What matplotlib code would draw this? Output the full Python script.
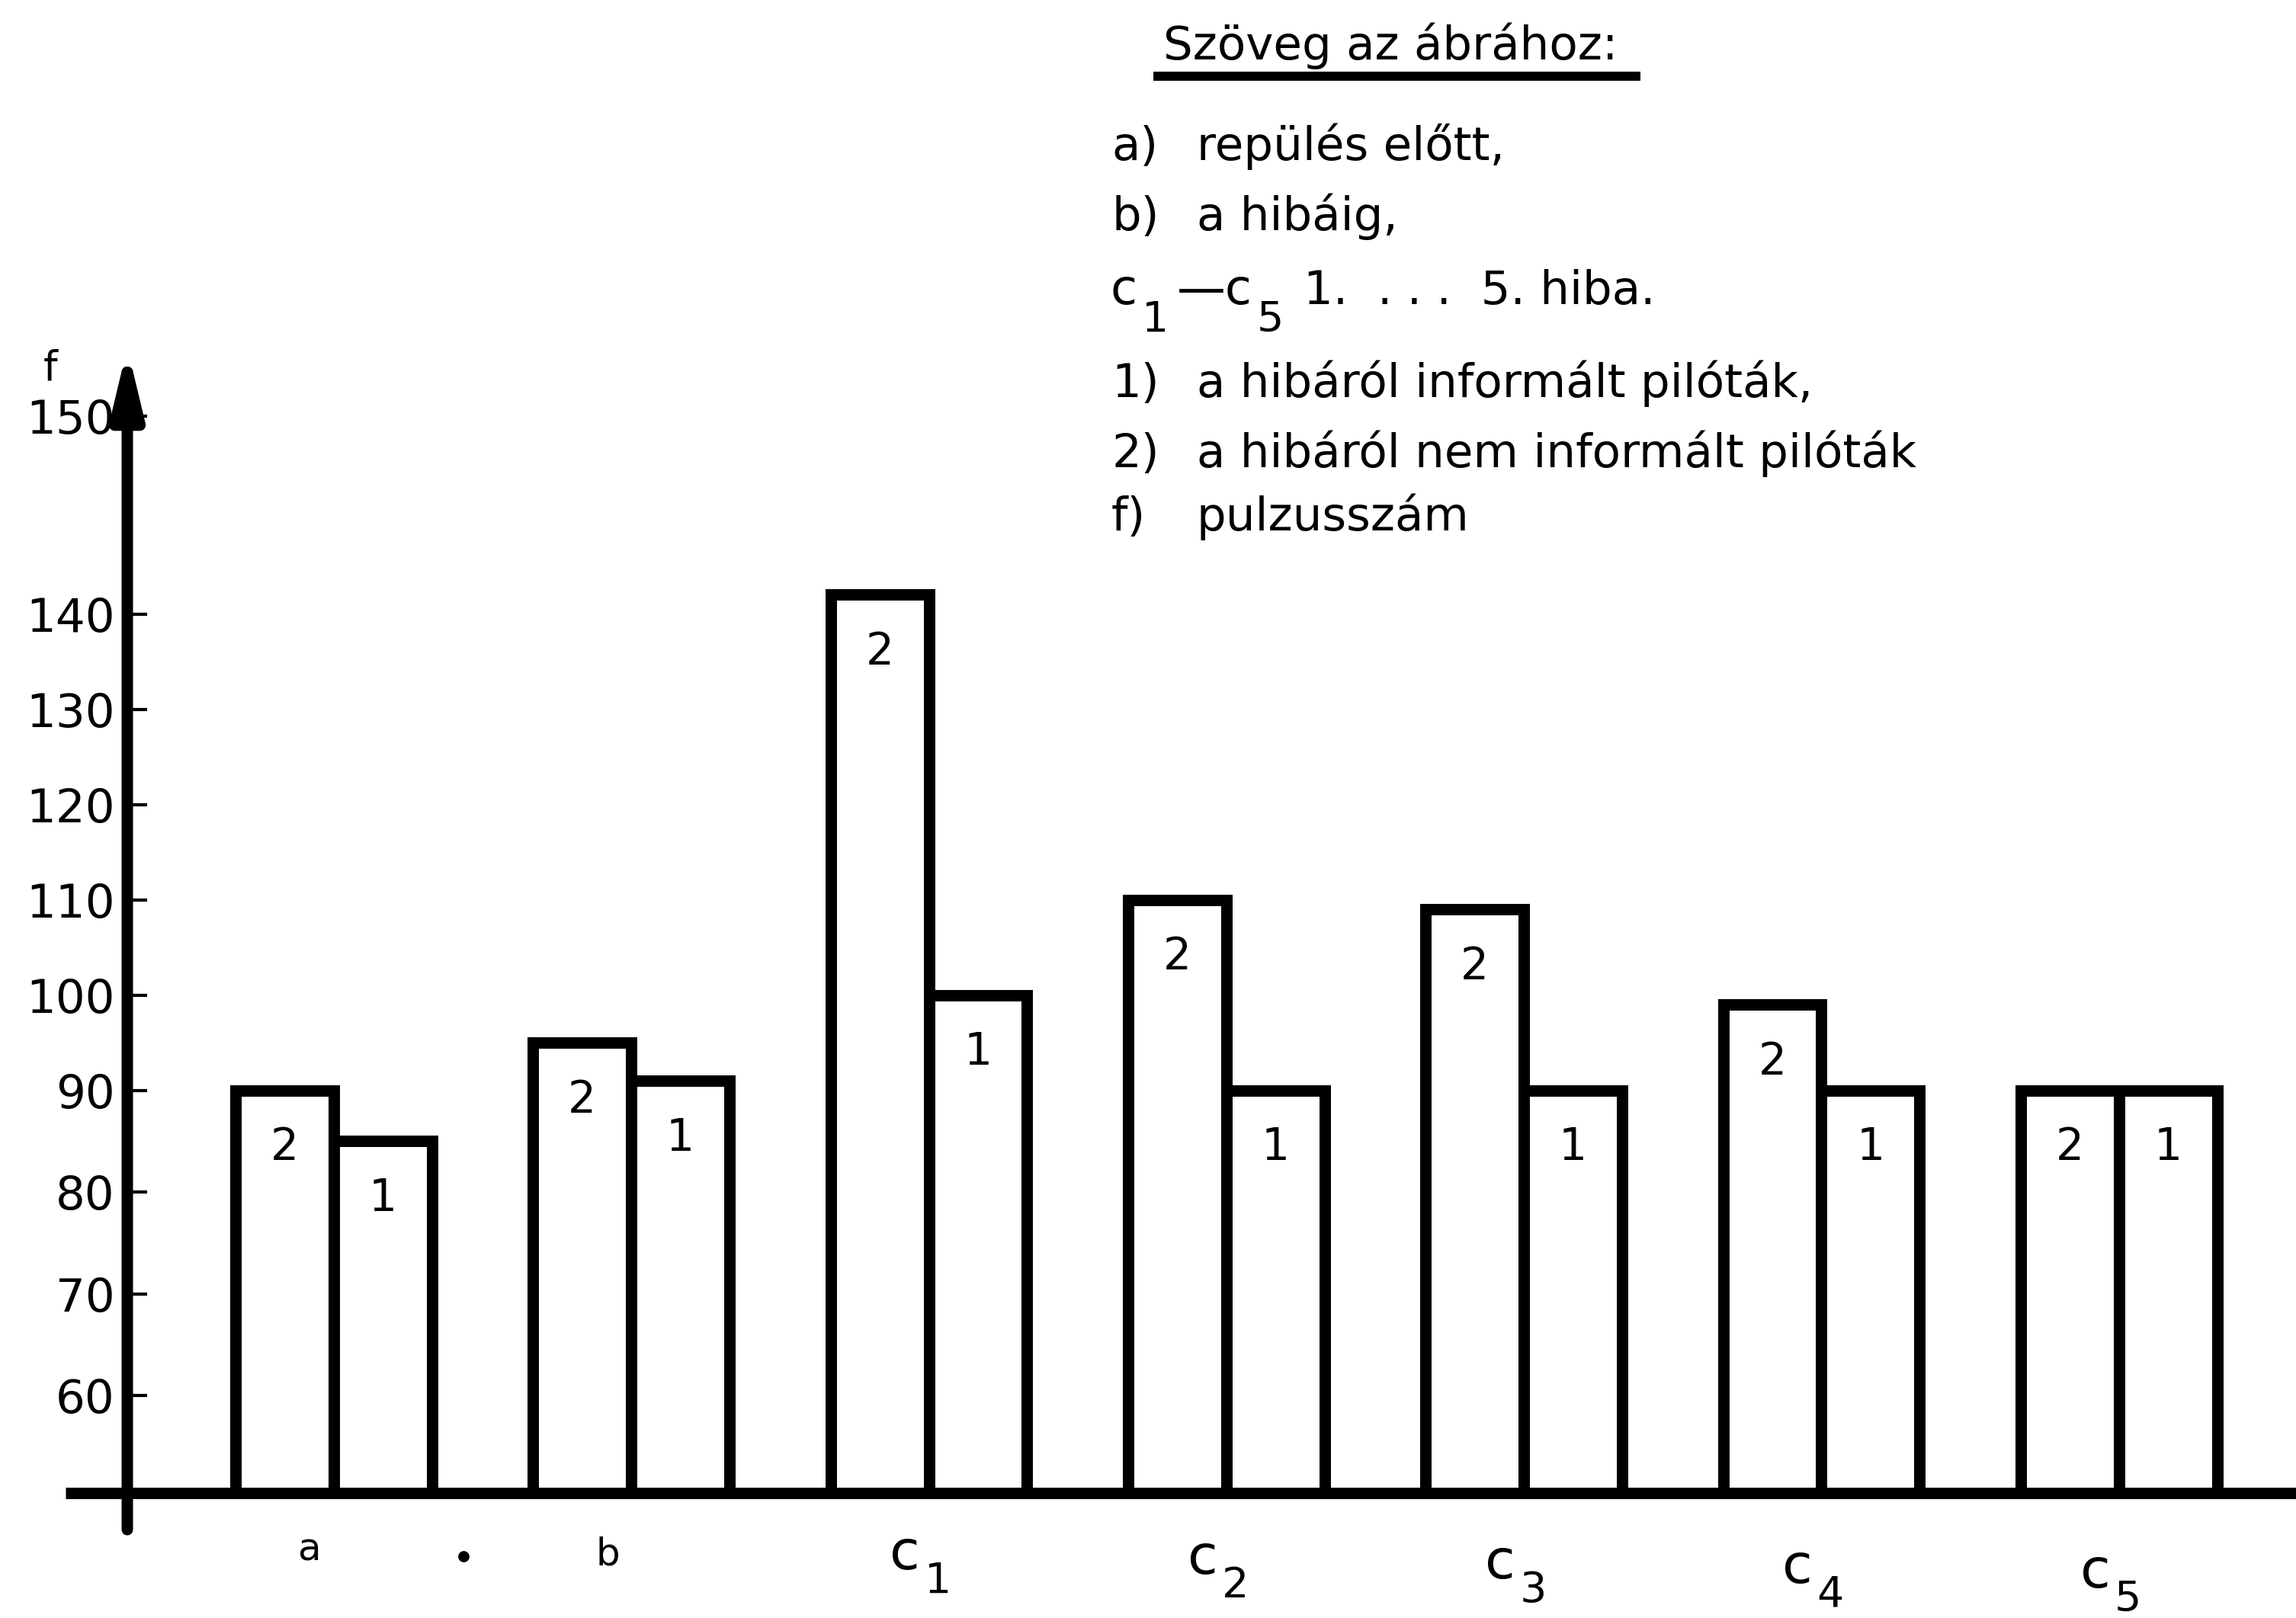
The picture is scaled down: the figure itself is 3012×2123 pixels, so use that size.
"""
Pulzusszam abra - repules elott, a hibaig es az 1-5. hiba soran
"""

import matplotlib.pyplot as plt
import numpy as np

# Csoportok az x tengelyen (betu + also index)
csoportok = ['a', 'b', 'c', 'c', 'c', 'c', 'c']
csoport_index = ['', '', '1', '2', '3', '4', '5']

# 2) a hibarol nem informalt pilotak, 1) a hibarol informalt pilotak
nem_informalt = [90, 95, 141, 110, 109, 99, 90]
informalt = [85, 91, 100, 90, 90, 90, 90]

y_ertekek = [60, 70, 80, 90, 100, 110, 120, 130, 140, 150]

cim = 'Szöveg az ábrához:'
jel_betuk = ['a)', 'b)', None, '1)', '2)', 'f)']
jel_szovegek = ['repülés előtt,', 'a hibáig,', '1.  . . .  5. hiba.',
                'a hibáról informált pilóták,',
                'a hibáról nem informált pilóták', 'pulzusszám']

# A kezzel rajzolt tengely beosztasa nem egyenletes (a 150 jocskan feljebb van)
SKALA_ERTEK = [0, 50, 60, 90, 140, 150, 300]
SKALA_HELY = [-50, 0, 10, 41.3, 90.1, 110.4, 260.4]


def elore(y):
    return np.interp(y, SKALA_ERTEK, SKALA_HELY)


def vissza(y):
    return np.interp(y, SKALA_HELY, SKALA_ERTEK)


fig = plt.figure(figsize=(15.06, 10.615), dpi=200)
ax = fig.add_axes([0.05545, 0.07725, 1 - 0.05545, 0.6967])
ax.set_yscale('function', functions=(elore, vissza))
ax.set_xlim(-0.694, 6.595)
ax.set_ylim(50, 155.2)

for s in ax.spines.values():
    s.set_visible(False)

x = np.arange(len(csoportok))
szel = 0.33
stilus = dict(width=szel, facecolor='white', edgecolor='black',
              linewidth=5.4, joinstyle='miter', zorder=2)
ax.bar(x - szel / 2, nem_informalt, **stilus)
ax.bar(x + szel / 2, informalt, **stilus)

# Sorszamok az oszlopokban
for xi, v in zip(x, nem_informalt):
    ax.annotate('2', xy=(xi - szel / 2, v), xytext=(0, -27),
                textcoords='offset points', ha='center', va='center', fontsize=21)
for xi, v in zip(x, informalt):
    ax.annotate('1', xy=(xi + szel / 2, v), xytext=(0, -27),
                textcoords='offset points', ha='center', va='center', fontsize=21)

# Tengelyek
ax.plot([-0.0285, 1], [0, 0], transform=ax.transAxes, color='black',
        lw=5.4, solid_capstyle='butt', clip_on=False, zorder=3)
ax.annotate('', xy=(0, 1.016), xytext=(0, -0.0325), xycoords='axes fraction',
            arrowprops=dict(arrowstyle='-|>,head_length=1.25,head_width=0.3',
                            mutation_scale=20, lw=5.4, color='black',
                            shrinkA=0, shrinkB=0), zorder=3)

ax.set_xticks([])
ax.set_yticks(y_ertekek)
ax.set_yticklabels([str(v) for v in y_ertekek])
ax.tick_params(axis='y', direction='in', length=9.4, width=1.5, pad=6, labelsize=22)
ax.minorticks_off()

fig.text(0.0219, 1 - 498 / 2123, 'f', fontsize=19, ha='center', va='baseline')

# x tengely feliratai (lefele kicsit elcsuszva, mint az eredetin)
for i, (betu, idx) in enumerate(zip(csoportok, csoport_index)):
    yb = -(88 + 6 * i) / 1479
    meret = 26 if idx else 18
    t = ax.text(x[i] - 0.08, yb, betu, transform=ax.get_xaxis_transform(),
                ha='center', va='baseline', fontsize=meret)
    if idx:
        ax.annotate(idx, xy=(1, yb), xycoords=(t, 'axes fraction'),
                    xytext=(2, -11), textcoords='offset points',
                    ha='left', va='baseline', fontsize=20)

# kis pont a es b kozott
ax.plot([0.436], [-0.056], 'o', color='black', markersize=4.3,
        transform=ax.get_xaxis_transform(), clip_on=False)

# Jelmagyarazat
fig.text(0.5066, 1 - 78 / 2123, cim, fontsize=22, ha='left', va='baseline')
fig.add_artist(plt.Line2D([0.5043, 0.7125], [0.9529, 0.9529], color='black',
                          lw=4.3, transform=fig.transFigure))

sor_alap = [210, 302, 399, 521, 613, 696]
for betu, szoveg, yp in zip(jel_betuk, jel_szovegek, sor_alap):
    yb = 1 - yp / 2123
    if betu is None:
        c1 = fig.text(0.4837, yb, 'c', fontsize=23, ha='left', va='baseline')
        s1 = ax.annotate('1', xy=(1, yb), xycoords=(c1, 'figure fraction'),
                         xytext=(2, -13), textcoords='offset points',
                         ha='left', va='baseline', fontsize=20)
        c5 = ax.annotate('—c', xy=(1, yb), xycoords=(s1, 'figure fraction'),
                         xytext=(4, 0), textcoords='offset points',
                         ha='left', va='baseline', fontsize=23)
        ax.annotate('5', xy=(1, yb), xycoords=(c5, 'figure fraction'),
                    xytext=(2, -13), textcoords='offset points',
                    ha='left', va='baseline', fontsize=20)
        fig.text(0.5677, yb, szoveg, fontsize=22, ha='left', va='baseline')
    else:
        fig.text(0.4841, yb, betu, fontsize=22, ha='left', va='baseline')
        fig.text(0.5212, yb, szoveg, fontsize=22, ha='left', va='baseline')

fig.savefig('out.png', dpi=200, facecolor='white')
